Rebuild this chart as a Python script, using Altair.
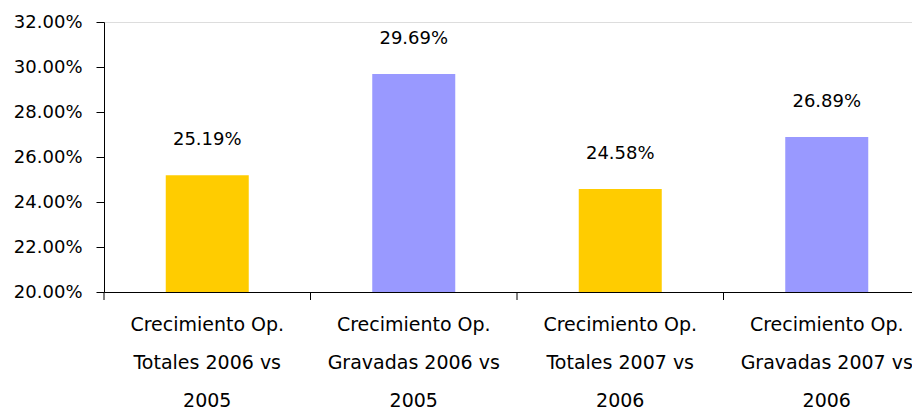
import altair as alt
import pandas as pd

categories = [
    "Crecimiento Op.\nTotales 2006 vs\n2005",
    "Crecimiento Op.\nGravadas 2006 vs\n2005",
    "Crecimiento Op.\nTotales 2007 vs\n2006",
    "Crecimiento Op.\nGravadas 2007 vs\n2006",
]
values = [0.2519, 0.2969, 0.2458, 0.2689]
colors = ["#FFCC00", "#9999FF", "#FFCC00", "#9999FF"]
y_ticks = [0.20, 0.22, 0.24, 0.26, 0.28, 0.30, 0.32]

df = pd.DataFrame({"cat": categories, "val": values, "color": colors})

FONT = "DejaVu Sans"
FS = 18
H = 270

x_scale = alt.Scale(domain=categories, paddingInner=0, paddingOuter=0, range=[0, 826])
y_scale = alt.Scale(domain=[0.20, 0.32], nice=False, zero=False, clamp=True)

base = alt.Chart(df)

bars = base.mark_bar(size=83).encode(
    x=alt.X("cat:N", scale=x_scale, sort=categories, title=None,
            axis=alt.Axis(labelAngle=0, ticks=False, domain=True, domainColor="black",
                          labelExpr="split(datum.label, '\\n')",
                          labelLineHeight=38, labelPadding=23, labelFont=FONT,
                          labelFontSize=19, labelColor="black", labelLimit=400,
                          labelOverlap=False)),
    y=alt.Y("val:Q", scale=y_scale, title=None,
            axis=alt.Axis(values=y_ticks, format=".2%", grid=False, domainColor="black",
                          tickColor="black", tickSize=8, labelPadding=14,
                          labelFont=FONT, labelFontSize=FS, labelColor="black")),
    color=alt.Color("color:N", scale=None),
)

labels = base.mark_text(font=FONT, fontSize=FS, color="black", baseline="middle", dy=-35).encode(
    x=alt.X("cat:N", scale=x_scale, sort=categories),
    y=alt.Y("val:Q", scale=y_scale),
    text=alt.Text("val:Q", format=".2%"),
)

xticks = base.mark_rule(color="black", strokeWidth=1).encode(
    x=alt.X("cat:N", scale=x_scale, sort=categories, bandPosition=0),
    y=alt.value(H),
    y2=alt.value(H + 8),
)

chart = alt.layer(bars, labels, xticks).properties(
    width=808, height=H,
    autosize=alt.AutoSizeParams(type="none"),
    padding={"left": 96, "top": 14, "right": 0, "bottom": 120},
).configure_view(stroke=None).configure(background="white")

chart.save("out.html", embed_options={"renderer": "svg", "actions": False})
